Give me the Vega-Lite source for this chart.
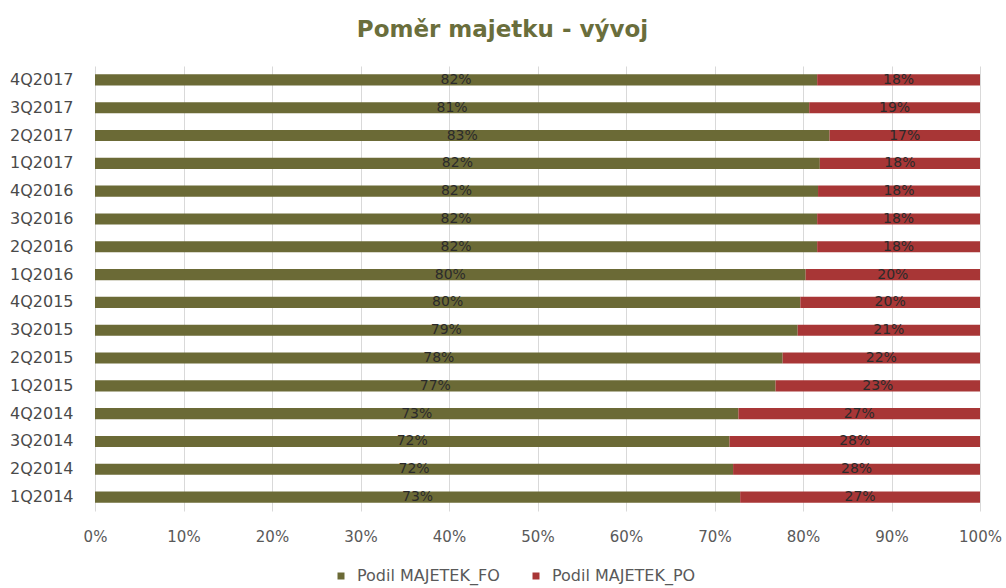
{
  "$schema": "https://vega.github.io/schema/vega-lite/v6.json",
  "autosize": {"type": "none"},
  "width": 885,
  "height": 445,
  "padding": {"left": 95, "top": 66, "right": 26, "bottom": 77},
  "background": "white",
  "title": {
    "text": "Poměr majetku - vývoj",
    "font": "DejaVu Sans",
    "fontSize": 23,
    "fontWeight": "bold",
    "color": "#6a6e3c",
    "anchor": "middle",
    "dx": -35,
    "offset": 24
  },
  "data": {
    "values": [
      {"q": "4Q2017", "s": "Podil MAJETEK_FO", "v": 0.816}, {"q": "4Q2017", "s": "Podil MAJETEK_PO", "v": 0.184},
      {"q": "3Q2017", "s": "Podil MAJETEK_FO", "v": 0.807}, {"q": "3Q2017", "s": "Podil MAJETEK_PO", "v": 0.193},
      {"q": "2Q2017", "s": "Podil MAJETEK_FO", "v": 0.830}, {"q": "2Q2017", "s": "Podil MAJETEK_PO", "v": 0.170},
      {"q": "1Q2017", "s": "Podil MAJETEK_FO", "v": 0.819}, {"q": "1Q2017", "s": "Podil MAJETEK_PO", "v": 0.181},
      {"q": "4Q2016", "s": "Podil MAJETEK_FO", "v": 0.817}, {"q": "4Q2016", "s": "Podil MAJETEK_PO", "v": 0.183},
      {"q": "3Q2016", "s": "Podil MAJETEK_FO", "v": 0.816}, {"q": "3Q2016", "s": "Podil MAJETEK_PO", "v": 0.184},
      {"q": "2Q2016", "s": "Podil MAJETEK_FO", "v": 0.816}, {"q": "2Q2016", "s": "Podil MAJETEK_PO", "v": 0.184},
      {"q": "1Q2016", "s": "Podil MAJETEK_FO", "v": 0.803}, {"q": "1Q2016", "s": "Podil MAJETEK_PO", "v": 0.197},
      {"q": "4Q2015", "s": "Podil MAJETEK_FO", "v": 0.797}, {"q": "4Q2015", "s": "Podil MAJETEK_PO", "v": 0.203},
      {"q": "3Q2015", "s": "Podil MAJETEK_FO", "v": 0.794}, {"q": "3Q2015", "s": "Podil MAJETEK_PO", "v": 0.206},
      {"q": "2Q2015", "s": "Podil MAJETEK_FO", "v": 0.777}, {"q": "2Q2015", "s": "Podil MAJETEK_PO", "v": 0.223},
      {"q": "1Q2015", "s": "Podil MAJETEK_FO", "v": 0.769}, {"q": "1Q2015", "s": "Podil MAJETEK_PO", "v": 0.231},
      {"q": "4Q2014", "s": "Podil MAJETEK_FO", "v": 0.727}, {"q": "4Q2014", "s": "Podil MAJETEK_PO", "v": 0.273},
      {"q": "3Q2014", "s": "Podil MAJETEK_FO", "v": 0.717}, {"q": "3Q2014", "s": "Podil MAJETEK_PO", "v": 0.283},
      {"q": "2Q2014", "s": "Podil MAJETEK_FO", "v": 0.721}, {"q": "2Q2014", "s": "Podil MAJETEK_PO", "v": 0.279},
      {"q": "1Q2014", "s": "Podil MAJETEK_FO", "v": 0.729}, {"q": "1Q2014", "s": "Podil MAJETEK_PO", "v": 0.271}
    ]
  },
  "transform": [
    {"stack": "v", "groupby": ["q"], "sort": [{"field": "s", "order": "ascending"}], "as": ["v0", "v1"]}
  ],
  "encoding": {
    "y": {
      "field": "q",
      "type": "nominal",
      "sort": ["4Q2017","3Q2017","2Q2017","1Q2017","4Q2016","3Q2016","2Q2016","1Q2016","4Q2015","3Q2015","2Q2015","1Q2015","4Q2014","3Q2014","2Q2014","1Q2014"],
      "scale": {"paddingInner": 0.6, "paddingOuter": 0.3},
      "axis": {
        "title": null,
        "domain": false,
        "ticks": false,
        "labelFont": "DejaVu Sans",
        "labelFontSize": 16,
        "labelColor": "#4a4a4a",
        "labelPadding": 22
      }
    }
  },
  "layer": [
    {
      "mark": {"type": "bar"},
      "encoding": {
        "x": {
          "field": "v0",
          "type": "quantitative",
          "scale": {"domain": [0, 1], "nice": false, "zero": true},
          "axis": {
            "title": null,
            "format": ".0%",
            "values": [0, 0.1, 0.2, 0.3, 0.4, 0.5, 0.6, 0.7, 0.8, 0.9, 1],
            "domain": false,
            "ticks": false,
            "grid": true,
            "gridColor": "#d9d9d9",
            "gridWidth": 1,
            "labelFlush": false,
            "labelFont": "DejaVu Sans",
            "labelFontSize": 15,
            "labelColor": "#595959",
            "labelPadding": 18
          }
        },
        "x2": {"field": "v1"},
        "color": {
          "field": "s",
          "type": "nominal",
          "scale": {"domain": ["Podil MAJETEK_FO", "Podil MAJETEK_PO"], "range": ["#6b6a36", "#a83636"]},
          "legend": {
            "title": null,
            "orient": "none",
            "direction": "horizontal",
            "legendX": 238,
            "legendY": 502,
            "symbolType": "square",
            "symbolSize": 49,
            "symbolStrokeWidth": 0,
            "labelFont": "DejaVu Sans",
            "labelFontSize": 16,
            "labelColor": "#595959",
            "columnPadding": 28,
            "labelOffset": 8
          }
        }
      }
    },
    {
      "transform": [{"fold": ["v0", "v1"], "as": ["k", "pos"]}],
      "mark": {"type": "text", "font": "DejaVu Sans", "fontSize": 14, "color": "#2b2b2b", "baseline": "middle"},
      "encoding": {
        "x": {
          "aggregate": "mean",
          "field": "pos",
          "type": "quantitative",
          "axis": {
            "title": null,
            "format": ".0%",
            "values": [0, 0.1, 0.2, 0.3, 0.4, 0.5, 0.6, 0.7, 0.8, 0.9, 1],
            "domain": false,
            "ticks": false,
            "grid": true,
            "gridColor": "#d9d9d9",
            "gridWidth": 1,
            "labelFlush": false,
            "labelFont": "DejaVu Sans",
            "labelFontSize": 15,
            "labelColor": "#595959",
            "labelPadding": 18
          }
        },
        "detail": {"field": "s", "type": "nominal"},
        "text": {"field": "v", "type": "quantitative", "format": ".0%"}
      }
    }
  ],
  "config": {
    "view": {"stroke": null}
  }
}
